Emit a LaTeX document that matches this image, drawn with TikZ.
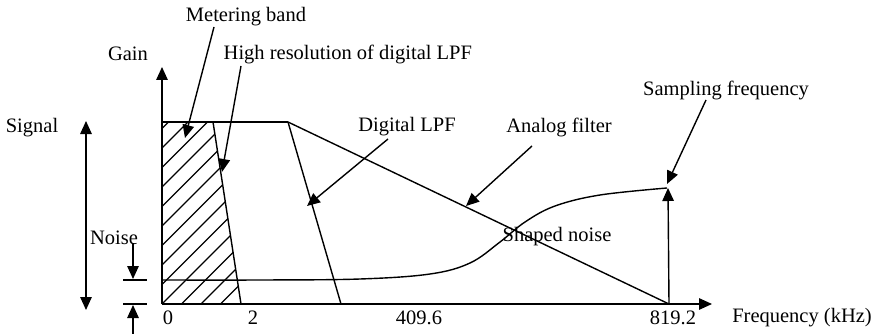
\documentclass[tikz,border=0pt]{standalone}
\usepackage{fontspec}
\setmainfont{Liberation Serif}
\usetikzlibrary{arrows.meta}
\begin{document}
\begin{tikzpicture}[x=1pt,y=-1pt,
  line width=1.4pt,
  tip/.style={-{Triangle[length=13pt,width=11.5pt]}},
  dtip/.style={{Triangle[length=13pt,width=11.5pt]}-{Triangle[length=13pt,width=11.5pt]}},
  lbl/.style={font=\fontsize{20.5}{24}\selectfont, inner sep=0pt},
  hatch/.style={line width=1.1pt},
  ]
\useasboundingbox (0,0) rectangle (880,334);

% key points
\coordinate (O) at (162,304);
\coordinate (ytip) at (162,67);
\coordinate (xtip) at (712,304);
\coordinate (topL) at (162,122);
\coordinate (hrTop) at (213,122);
\coordinate (hrBot) at (241,304);
\coordinate (knee) at (288,122);
\coordinate (dlBot) at (341,304);
\coordinate (anBot) at (669,304);
\coordinate (fsTop) at (668,188);

% hatched metering band
\begin{scope}
\clip (topL) -- (hrTop) -- (hrBot) -- (O) -- cycle;
\foreach \c in {-10,...,5} {
  \draw[hatch] ({162+19.5*\c},304) -- ++(200,-200);
}
\end{scope}

% axes
\draw[tip] (O) -- (ytip);
\draw[tip] (O) -- (xtip);

% filter lines
\draw (topL) -- (knee);
\draw (hrTop) -- (hrBot);
\draw (knee) -- (dlBot);
\draw (knee) -- (anBot);

% shaped noise curve
\draw plot[smooth, tension=0.6] coordinates {(162,280) (260,280) (360,279) (430,274) (470,263) (500,242) (525,222) (555,206) (600,195) (667,188)};

% sampling frequency marker
\draw[tip] (anBot) -- (fsTop);

% labels
\node[lbl] (metering) at (246,17) {Metering band};
\node[lbl] (gain) at (128,54) {Gain};
\node[lbl,anchor=west] (hires) at (223,54) {High resolution of digital LPF};
\node[lbl] (dlpf) at (407,127) {Digital LPF};
\node[lbl] (analog) at (559,127) {Analog filter};
\node[lbl] (shaped) at (557,237) {Shaped noise};
\node[lbl] (sampling) at (726,90) {Sampling frequency};
\node[lbl] (freq) at (802,318) {Frequency (kHz)};
\node[lbl] (t819) at (673,318) {819.2};
\node[lbl] (t409) at (419,318) {409.6};
\node[lbl] (t0) at (168,318) {0};
\node[lbl] (t2) at (253,318) {2};
\node[lbl] (signal) at (32,128) {Signal};
\node[lbl] (noise) at (114,238) {Noise};

% callout arrows
\coordinate (mbS) at (214,27);
\coordinate (mbE) at (185,138);
\coordinate (hrS) at (241,66);
\coordinate (hrE) at (222,172);
\coordinate (dlS) at (388,139);
\coordinate (dlE) at (307,206);
\coordinate (anS) at (532,146);
\coordinate (anE) at (466,206);
\coordinate (sfS) at (706,100);
\coordinate (sfE) at (667,184);
\draw[tip] (mbS) -- (mbE);
\draw[tip] (hrS) -- (hrE);
\draw[tip] (dlS) -- (dlE);
\draw[tip] (anS) -- (anE);
\draw[tip] (sfS) -- (sfE);

% signal range arrow
\coordinate (sigT) at (86,121);
\coordinate (sigB) at (86,310);
\draw[dtip] (sigT) -- (sigB);

% noise dimension
\coordinate (nt1) at (123,280);
\coordinate (nt2) at (147,280);
\coordinate (nb1) at (123,304);
\coordinate (nb2) at (147,304);
\draw (nt1) -- (nt2);
\draw (nb1) -- (nb2);
\coordinate (naS) at (133,243);
\coordinate (naE) at (133,279);
\coordinate (nbS) at (133,334);
\coordinate (nbE) at (133,305);
\draw[tip] (naS) -- (naE);
\draw[tip] (nbS) -- (nbE);
\end{tikzpicture}
\end{document}
